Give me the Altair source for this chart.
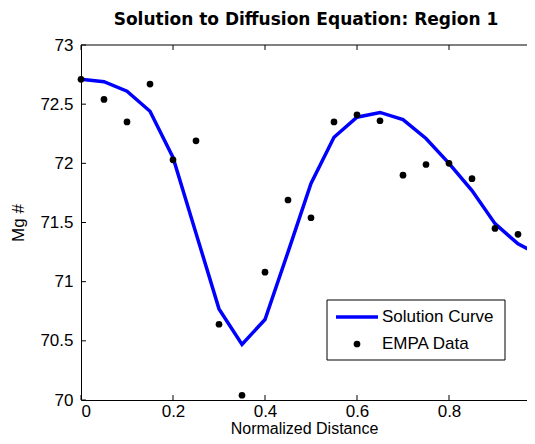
import altair as alt
import pandas as pd

# EMPA measurement data
data_x = [0.00, 0.05, 0.10, 0.15, 0.20, 0.25, 0.30, 0.35, 0.40, 0.45,
          0.50, 0.55, 0.60, 0.65, 0.70, 0.75, 0.80, 0.85, 0.90, 0.95]
data_y = [72.71, 72.54, 72.35, 72.67, 72.03, 72.19, 70.64, 70.04, 71.08, 71.69,
          71.54, 72.35, 72.41, 72.36, 71.90, 71.99, 72.00, 71.87, 71.45, 71.40]

# Solution curve
curve_x = [0.00, 0.05, 0.10, 0.15, 0.20, 0.25, 0.30, 0.35, 0.40, 0.45, 0.50,
           0.55, 0.60, 0.65, 0.70, 0.75, 0.80, 0.85, 0.90, 0.95, 1.00]
curve_y = [72.71, 72.69, 72.61, 72.44, 72.05, 71.41, 70.77, 70.47, 70.68, 71.25, 71.83,
           72.22, 72.39, 72.43, 72.37, 72.21, 72.00, 71.77, 71.49, 71.32, 71.22]

x_ticks = [0, 0.2, 0.4, 0.6, 0.8]
y_ticks = [70, 70.5, 71, 71.5, 72, 72.5, 73]
legend_labels = ["Solution Curve", "EMPA Data"]
title_text = "Solution to Diffusion Equation: Region 1"

W, H = 446, 355
FONT = "Liberation Sans"
BLUE = "#0000FF"

pts = pd.DataFrame({"x": data_x, "y": data_y})
crv = pd.DataFrame({"x": curve_x, "y": curve_y})
xt = pd.DataFrame({"x": x_ticks})
yt = pd.DataFrame({"y": y_ticks})
one = pd.DataFrame({"k": [0]})

xs = alt.Scale(domain=[0, W / 460], nice=False, zero=False)
ys = alt.Scale(domain=[70, 73], nice=False, zero=False)
xa = alt.Axis(values=x_ticks, format=".1~f", title="Normalized Distance",
              titleBaseline="alphabetic", titleY=33, titleFontSize=16, labelPadding=3)
ya = alt.Axis(values=y_ticks, format=".1~f", title="Mg #")


def X():
    return alt.X("x:Q", scale=xs, axis=xa)


def Y():
    return alt.Y("y:Q", scale=ys, axis=ya)


line = alt.Chart(crv).mark_line(color=BLUE, strokeWidth=3.5, clip=True).encode(x=X(), y=Y())

points = alt.Chart(pts).mark_circle(size=45, color="black", opacity=1).encode(x=X(), y=Y())

bottom_ticks = alt.Chart(xt).mark_rule(color="black", strokeWidth=1).encode(
    x=X(), y=alt.value(H), y2=alt.value(H - 5))
top_ticks = alt.Chart(xt).mark_rule(color="black", strokeWidth=1).encode(
    x=X(), y=alt.value(0), y2=alt.value(5))
left_ticks = alt.Chart(yt).mark_rule(color="black", strokeWidth=1).encode(
    y=Y(), x=alt.value(0), x2=alt.value(5))
top_border = alt.Chart(one).mark_rule(color="black", strokeWidth=1).encode(
    x=alt.value(0), x2=alt.value(W), y=alt.value(0))

title = alt.Chart(one).mark_text(align="center", baseline="alphabetic", font="DejaVu Sans",
                                 fontSize=17, fontWeight="bold", color="black").encode(
    x=alt.value(225), y=alt.value(-20), text=alt.value(title_text))

leg_box = alt.Chart(one).mark_rect(fill="white", stroke="black", strokeWidth=1).encode(
    x=alt.value(246), x2=alt.value(424), y=alt.value(255), y2=alt.value(315))
leg_line = alt.Chart(one).mark_rule(color=BLUE, strokeWidth=3.5).encode(
    x=alt.value(255), x2=alt.value(297), y=alt.value(272))
leg_pt = alt.Chart(one).mark_circle(size=45, color="black", opacity=1).encode(
    x=alt.value(276), y=alt.value(299))
leg_t1 = alt.Chart(one).mark_text(align="left", baseline="middle", font=FONT,
                                  fontSize=17, color="black").encode(
    x=alt.value(301), y=alt.value(272), text=alt.value(legend_labels[0]))
leg_t2 = alt.Chart(one).mark_text(align="left", baseline="middle", font=FONT,
                                  fontSize=17, color="black").encode(
    x=alt.value(301), y=alt.value(299), text=alt.value(legend_labels[1]))

chart = alt.layer(
    line, points, bottom_ticks, top_ticks, left_ticks, top_border, title,
    leg_box, leg_line, leg_pt, leg_t1, leg_t2,
).properties(
    width=W, height=H,
    autosize=alt.AutoSizeParams(type="none"),
    padding={"left": 73, "top": 37, "right": 0, "bottom": 36},
).configure_view(stroke=None).configure_axis(
    labelFont=FONT, labelFontSize=17, labelColor="black",
    titleFont=FONT, titleFontSize=17, titleColor="black", titleFontWeight="normal",
    domainColor="black", domainWidth=1, tickSize=0, grid=False,
    labelPadding=8,
).configure_axisY(titlePadding=12)

chart.save("out.html", embed_options={"renderer": "svg", "actions": False})
